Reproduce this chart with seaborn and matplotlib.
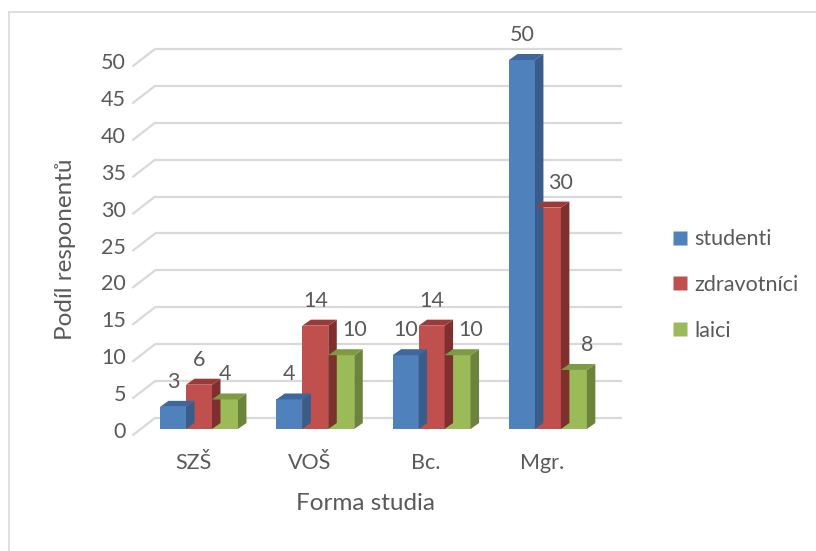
import matplotlib
matplotlib.use("Agg")
import matplotlib.pyplot as plt
from matplotlib.patches import Polygon
from matplotlib.lines import Line2D
import seaborn as sns
import pandas as pd

# Survey data
categories = ["SZŠ", "VOŠ", "Bc.", "Mgr."]
series = ["studenti", "zdravotníci", "laici"]
studenti = [3, 4, 10, 50]
zdravotnici = [6, 14, 14, 30]
laici = [4, 10, 10, 8]
y_ticks = [0, 5, 10, 15, 20, 25, 30, 35, 40, 45, 50]

face_colors = ["#4F81BD", "#C0504D", "#9BBB59"]
side_colors = ["#385D8A", "#7F302E", "#6B833A"]
top_colors = ["#3F679A", "#9B3B39", "#7E9A45"]
text_color = "#595959"
grid_color = "#D9D9D9"

df = pd.DataFrame({
    "Forma studia": categories * 3,
    "skupina": [s for s in series for _ in categories],
    "hodnota": studenti + zdravotnici + laici,
})

sns.set_theme(style="white")
plt.rcParams["font.family"] = ["Lato", "DejaVu Sans"]

W, H = 816, 551
fig = plt.figure(figsize=(W / 100, H / 100), dpi=100)

# axes box in pixels; data x = (px - 199)/116.3, data y = (429 - py)/7.38
ax_l, ax_r, ax_t, ax_b = 100, 650, 20, 470
px_per_x, px_per_y = 116.3, 7.38
x0_px, y0_px = 199, 429
ax = fig.add_axes([ax_l / W, (H - ax_b) / H, (ax_r - ax_l) / W, (ax_b - ax_t) / H])

sns.barplot(data=df, x="Forma studia", y="hodnota", hue="skupina",
            palette=face_colors, width=0.67, gap=0, saturation=1,
            linewidth=0, ax=ax, legend=False, zorder=3)

ax.set_xlim((ax_l - x0_px) / px_per_x, (ax_r - x0_px) / px_per_x)
ax.set_ylim((y0_px - ax_b) / px_per_y, (y0_px - ax_t) / px_per_y)
ax.axis("off")


def dx(px):
    return px / px_per_x


def dy(px):
    return px / px_per_y


# back wall gridlines and left-side diagonals
back_l, back_r = dx(155 - x0_px), dx(622 - x0_px)
back_off = dy(11)
front_l = dx(133 - x0_px)
front_off = dy(6)
for v in y_ticks:
    ax.plot([back_l, back_r], [v + back_off, v + back_off], color=grid_color,
            lw=1.6, zorder=1, solid_capstyle="butt")
    ax.plot([front_l, back_l], [v - front_off, v + back_off], color=grid_color,
            lw=1.6, zorder=1)
    ax.text(dx(126 - x0_px), v - dy(3), str(v), ha="right", va="center",
            fontsize=15.5, color=text_color)

# 3D side and top faces of each bar, plus value labels
depth_x, depth_y = dx(8.5), dy(6)
bars = list(ax.patches)
values = [studenti, zdravotnici, laici]
for i, s in enumerate(series):
    for j, v in enumerate(values[i]):
        p = bars[i * len(categories) + j]
        x, w = p.get_x(), p.get_width()
        h = p.get_height()
        side = Polygon([(x + w, 0), (x + w + depth_x, depth_y),
                        (x + w + depth_x, h + depth_y), (x + w, h)],
                       closed=True, facecolor=side_colors[i], edgecolor="none", zorder=3)
        top = Polygon([(x, h), (x + depth_x, h + depth_y),
                       (x + w + depth_x, h + depth_y), (x + w, h)],
                      closed=True, facecolor=top_colors[i], edgecolor="none", zorder=3)
        ax.add_patch(side)
        ax.add_patch(top)
        # shift the label right when the neighbouring bar on the left would cover it
        shift = dx(13) if i > 0 and values[i - 1][j] > v + 3 else 0
        ax.text(x + w / 2 + shift, h + dy(25), str(v), ha="center", va="center",
                fontsize=15.5, color=text_color, zorder=6)

# category labels
for j, c in enumerate(categories):
    ax.text(j - dx(6), dy(429 - 463), c, ha="center", va="center",
            fontsize=15.5, color=text_color)

fig.text(365 / W, 1 - 504 / H, "Forma studia", ha="center", va="center",
         fontsize=17.5, color=text_color)
fig.text(66 / W, 1 - 249 / H, "Podíl responentů", ha="center", va="center",
         rotation=90, fontsize=17.5, color=text_color)

# legend
handles = [Line2D([0], [0], marker="s", linestyle="none", markersize=9.5,
                  markerfacecolor=c, markeredgecolor="none") for c in face_colors]
fig.legend(handles, series, loc="center left", bbox_to_anchor=(671 / W, 1 - 285 / H),
           frameon=False, fontsize=15.5, labelcolor=text_color, handletextpad=0.3,
           labelspacing=1.2, handlelength=0.8, borderpad=0, borderaxespad=0)

# chart frame
fig.add_artist(Line2D([8.5 / W, 8.5 / W], [0, 1 - 12 / H], color="#D9D9D9", lw=1.2))
fig.add_artist(Line2D([8.5 / W, 1], [1 - 12 / H, 1 - 12 / H], color="#D9D9D9", lw=1.2))

fig.savefig("out.png", dpi=100, facecolor="white")
